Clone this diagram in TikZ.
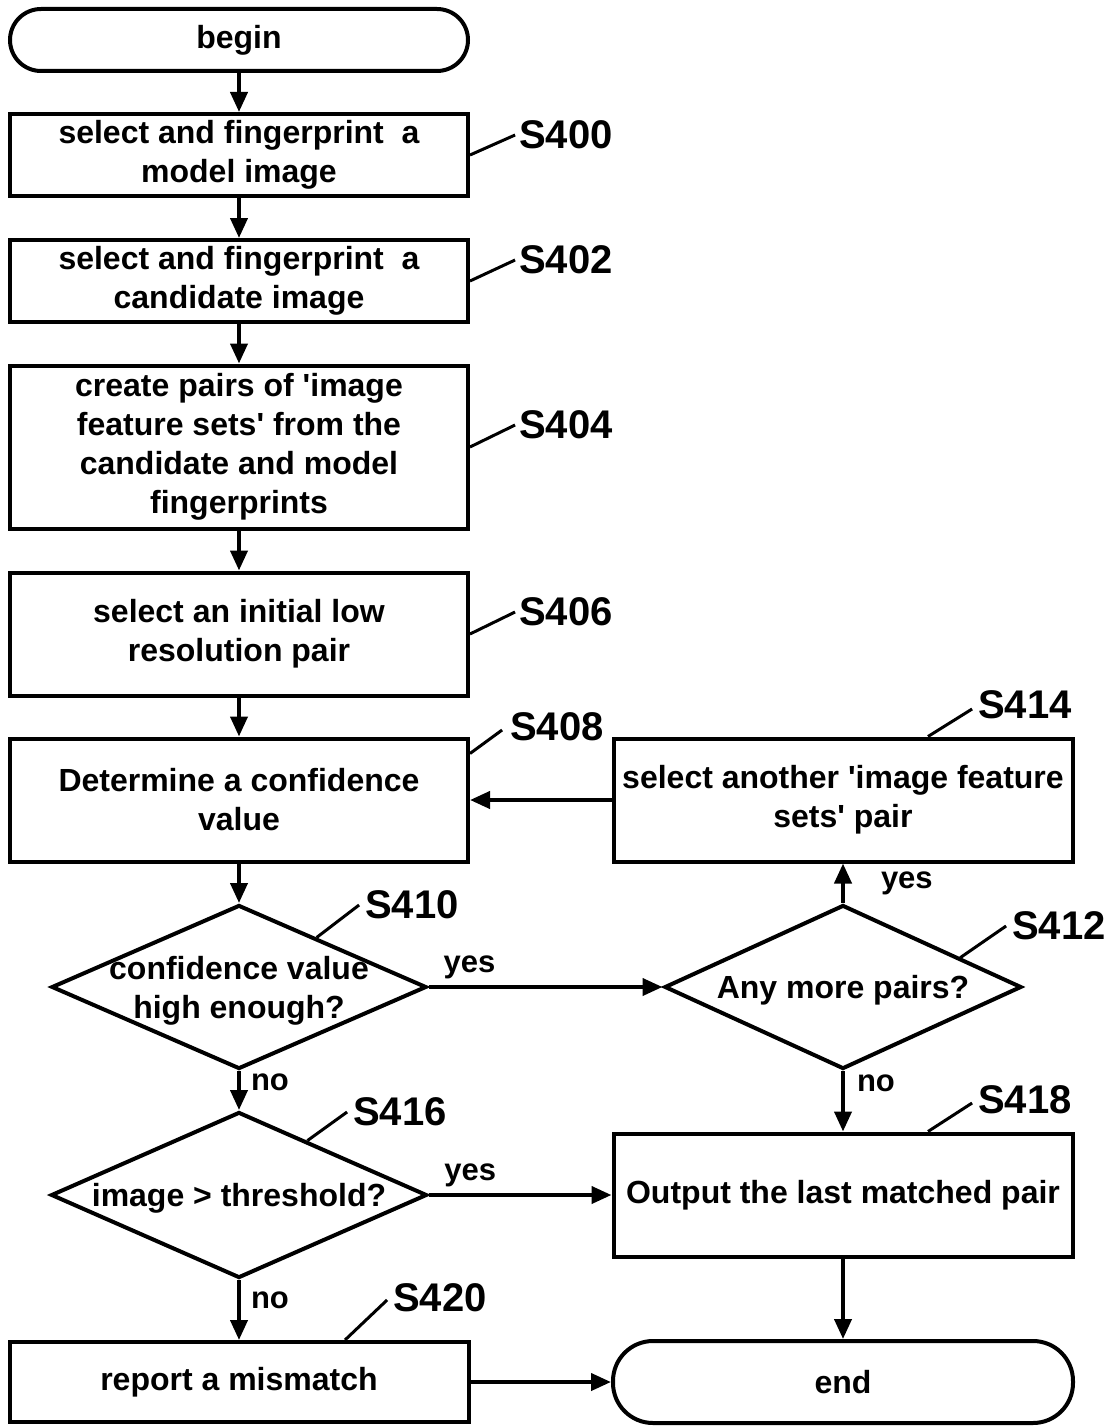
\documentclass[tikz,border=0pt]{standalone}
\usepackage{fontspec}
\setmainfont{Liberation Sans}
\usetikzlibrary{arrows.meta,shapes.geometric,calc}
\newcommand\dtext[1]{\smash{\makebox[0pt]{\raisebox{-10pt}{\begin{tabular}{@{}c@{}}#1\end{tabular}}}}}
\begin{document}
\begin{tikzpicture}[x=1pt,y=-1pt,
  every node/.style={font=\bfseries\fontsize{32}{39}\selectfont},
  box/.style={draw,line width=4pt,rectangle,inner sep=0pt,align=center},
  dia/.style={draw,line width=4pt,diamond,inner sep=0pt},
  arr/.style={line width=4pt,-{Triangle[length=20pt,width=17pt]}},
  lead/.style={line width=3pt},
  steplbl/.style={font=\bfseries\fontsize{40}{48}\selectfont,inner sep=0pt},
  lbl/.style={font=\bfseries\fontsize{31}{36}\selectfont,inner sep=0pt}]
\useasboundingbox (0,0) rectangle (1114,1426);

\node[box, rounded corners=31pt, minimum width=458pt, minimum height=62pt] (start) at (239,40) {begin};
\node[box, minimum width=458pt, minimum height=82pt] (s400) at (239,155) {select and fingerprint~ a\\model image};
\node[box, minimum width=458pt, minimum height=82pt] (s402) at (239,281) {select and fingerprint~ a\\candidate image};
\node[box, minimum width=458pt, minimum height=163pt] (s404) at (239,447) {create pairs of \textquotesingle image\\feature sets\textquotesingle\ from the\\candidate and model\\fingerprints};
\node[box, minimum width=458pt, minimum height=123pt] (s406) at (239,634) {select an initial low\\resolution pair};
\node[box, minimum width=458pt, minimum height=123pt] (s408) at (239,800) {Determine a confidence\\value};
\node[box, minimum width=459pt, minimum height=123pt] (s414) at (843,800) {select another \textquotesingle image feature\\sets\textquotesingle\ pair};
\node[dia, minimum width=375pt, minimum height=164pt] (s410) at (239,987) {\dtext{confidence value\\high enough?}};
\node[dia, minimum width=357pt, minimum height=164pt] (s412) at (843,987) {\dtext{Any more pairs?}};
\node[dia, minimum width=376pt, minimum height=166pt] (s416) at (239,1195) {\dtext{image > threshold?}};
\node[box, minimum width=459pt, minimum height=123pt] (s418) at (843,1195) {Output the last matched pair};
\node[box, minimum width=459pt, minimum height=80pt] (s420) at (239,1382) {report a mismatch};
\node[box, rounded corners=40pt, minimum width=460pt, minimum height=82pt] (fin) at (843,1382) {end};

\node[steplbl] (l400) at (566,135) {S400};
\node[steplbl] (l402) at (566,260) {S402};
\node[steplbl] (l404) at (566,425) {S404};
\node[steplbl] (l406) at (566,612) {S406};
\node[steplbl] (l408) at (557,727) {S408};
\node[steplbl] (l414) at (1025,705) {S414};
\node[steplbl] (l410) at (412,905) {S410};
\node[steplbl] (l412) at (1059,926) {S412};
\node[steplbl] (l416) at (400,1112) {S416};
\node[steplbl] (l418) at (1025,1100) {S418};
\node[steplbl] (l420) at (440,1298) {S420};

\draw[lead] (s400.east) -- ([xshift=-4pt]l400.west);
\draw[lead] (s402.east) -- ([xshift=-4pt]l402.west);
\draw[lead] (s404.east) -- ([xshift=-4pt]l404.west);
\draw[lead] (s406.east) -- ([xshift=-4pt]l406.west);
\draw[lead] ([yshift=-17pt]s408.north east) -- ([xshift=-8pt,yshift=-3pt]l408.west);
\draw[lead] ([xshift=85pt]s414.north) -- ([xshift=-6pt,yshift=-4pt]l414.west);
\draw[lead] ($(s410.north)!0.41!(s410.east)$) -- ([xshift=-6pt]l410.west);
\draw[lead] ($(s412.north)!0.65!(s412.east)$) -- ([xshift=-6pt]l412.west);
\draw[lead] ($(s416.north)!0.36!(s416.east)$) -- ([xshift=-6pt]l416.west);
\draw[lead] ([xshift=85pt]s418.north) -- ([xshift=-6pt,yshift=-3pt]l418.west);
\draw[lead] ([xshift=106pt]s420.north) -- ([xshift=-6pt,yshift=-2pt]l420.west);

\draw[arr] (start) -- (s400);
\draw[arr] (s400) -- (s402);
\draw[arr] (s402) -- (s404);
\draw[arr] (s404) -- (s406);
\draw[arr] (s406) -- (s408);
\draw[arr] (s408) -- (s410);
\draw[arr] (s410.east) -- node[lbl, pos=0.175, yshift=20pt] {yes} (s412.west);
\draw[arr] (s410.south) -- node[lbl, pos=0.3, right=10pt] {no} (s416.north);
\draw[arr] (s412.north) -- node[lbl, pos=0.5, right=36pt] {yes} (s414.south);
\draw[arr] (s412.south) -- node[lbl, pos=0.2, right=12pt] {no} (s418.north);
\draw[arr] (s414.west) -- (s408.east);
\draw[arr] (s416.east) -- node[lbl, pos=0.226, yshift=20pt] {yes} (s418.west);
\draw[arr] (s416.south) -- node[lbl, pos=0.34, right=10pt] {no} (s420.north);
\draw[arr] (s418.south) -- (fin.north);
\draw[arr] (s420.east) -- (fin.west);
\end{tikzpicture}
\end{document}
